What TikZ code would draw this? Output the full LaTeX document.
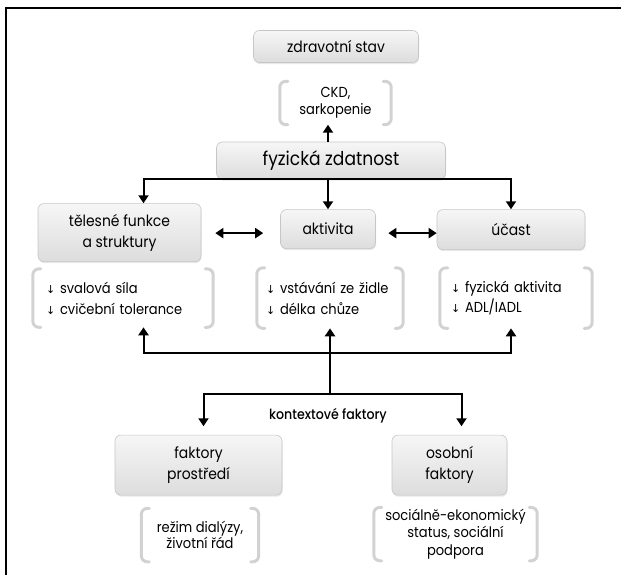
\documentclass[tikz,border=0pt]{standalone}
\usepackage{fontspec}
\setmainfont{Poppins}[FakeStretch=0.9]
\newfontfamily\medf{Poppins Medium}[FakeStretch=0.9]
\newfontfamily\symf{DejaVu Sans}
\usetikzlibrary{positioning,arrows.meta,shadows}

\newcommand\dn{{\symf\fontsize{11}{11}\selectfont ↓}\ }

\tikzset{
  box/.style={draw=gray!45, line width=0.6pt, rounded corners=6pt,
    top color=gray!7, bottom color=gray!27,
    drop shadow={opacity=0.18, shadow xshift=0.6pt, shadow yshift=-1.6pt},
    align=center, inner sep=0pt, font=\fontsize{15.5}{21}\selectfont},
  lst/.style={inner ysep=0pt, inner xsep=9pt, font=\fontsize{14.5}{20.7}\selectfont},
  brk/.style={draw=gray!35, line width=3pt, rounded corners=6pt, line cap=round},
  conn/.style={draw, line width=2pt, line cap=rect},
  arr/.style={draw, line width=2pt, -{Triangle[length=8pt,width=10pt]}},
  dbl/.style={draw, line width=2pt, {Triangle[length=8pt,width=10pt]}-{Triangle[length=8pt,width=10pt]}},
  frame/.style={draw, line width=2pt},
}

\begin{document}
\begin{tikzpicture}[x=1pt,y=-1pt]
    \useasboundingbox (0,0) rectangle (621,575);
    \draw[frame] (6,575) -- (6,8) -- (621,8);

    \node (fyz) [box, minimum width=229pt, minimum height=37pt, font=\fontsize{19}{21}\selectfont] at (331,160.5) {fyzická zdatnost};
    \node (ckd) [lst, above = 17pt, at=(fyz.north), xshift=4.5pt, minimum width=111pt, minimum height=43pt, align=center, font=\fontsize{14.5}{17}\selectfont] {CKD,\\sarkopenie};
    \node (zdr) [box, above = 18.5pt, at=(ckd.north), xshift=0.5pt, minimum width=165pt, minimum height=32pt] {zdravotní stav};

    \node (tel) [box, below = 24pt, at=(fyz.south), xshift=-211.5pt, minimum width=163pt, minimum height=58pt] {tělesné funkce\\a struktury};
    \node (akt) [box, below = 30pt, at=(fyz.south), xshift=-3pt, minimum width=95pt, minimum height=39pt] {aktivita};
    \node (uc) [box, below = 30pt, at=(fyz.south), xshift=180pt, minimum width=148pt, minimum height=40pt] {účast};

    \node (tfl) [lst, below = 7pt, at=(tel.south), xshift=3.5pt, inner xsep=13pt, align=left, text width=154pt, minimum height=58pt] {\dn svalová síla\\\dn cvičební tolerance};
    \node (akl) [lst, below = 19pt, at=(akt.south), xshift=2pt, align=left, text width=128pt, minimum height=60pt] {\dn vstávání ze židle\\\dn délka chůze};
    \node (ucl) [lst, below = 18pt, at=(uc.south), xshift=5pt, inner xsep=11pt, align=left, text width=130pt, minimum height=60pt] {\dn fyzická aktivita\\\dn ADL/IADL};

    \node (prost) [box, below = 106.5pt, at=(akl.south), xshift=-131.5pt, minimum width=167pt, minimum height=60pt] {faktory\\prostředí};
    \node (osob) [box, below = 106.5pt, at=(akl.south), xshift=119.5pt, minimum width=115pt, minimum height=60pt] {osobní\\faktory};

    \node (prl) [lst, below = 13pt, at=(prost.south), xshift=1.5pt, minimum width=117pt, minimum height=53pt, align=center, font=\fontsize{14.5}{16.5}\selectfont] {režim dialýzy,\\životní řád};
    \node (osl) [lst, below = 12pt, at=(osob.south), xshift=6pt, minimum width=163pt, minimum height=53pt, align=center, font=\fontsize{14.5}{17.5}\selectfont] {sociálně-ekonomický\\status, sociální\\podpora};

    % brackets round the lists
    \foreach \b in {ckd,tfl,akl,ucl,prl,osl}{
      \draw[brk] ([xshift=8pt]\b.north west) -- (\b.north west) -- (\b.south west) -- ([xshift=8pt]\b.south west);
      \draw[brk] ([xshift=-8pt]\b.north east) -- (\b.north east) -- (\b.south east) -- ([xshift=-8pt]\b.south east);
    }

    \coordinate (tl) at (143.5,179);
    \coordinate (tr) at (511,179);
    \coordinate (bl) at (143.5,353);
    \coordinate (bc) at (330,353);
    \coordinate (br) at (511,353);
    \coordinate (kc) at (330,394);
    \coordinate (kl) at (203.5,394);
    \coordinate (kr) at (461.5,394);
    \coordinate (ml) at ([yshift=-4pt]akt.west);
    \coordinate (mr) at ([yshift=-4pt]akt.east);

    \node (kf) [below = 11pt, at=(kc), xshift=-2pt, font=\medf\fontsize{14}{16}\selectfont] {kontextové faktory};

    \path[every edge/.style=conn]
    (tl) edge (tr)
    (bl) edge (br)
    (bc) edge (kc)
    (kl) edge (kr)
    ;

    \path[every edge/.style=arr]
    (akt.north |- fyz.north) edge (akt.north |- ckd.south)
    (tl) edge (tl |- tel.north)
    (akt.north |- fyz.south) edge (akt.north)
    (tr) edge (uc.north)
    (bl) edge (bl |- tfl.south)
    (bc) edge (bc |- akl.south)
    (br) edge (br |- ucl.south)
    (kl) edge[shorten >=8.5pt] (kl |- prost.north)
    (kr) edge[shorten >=8.5pt] (kr |- osob.north)
    ;

    \path[every edge/.style=dbl]
    (tel.east |- ml) edge[shorten <=14pt, shorten >=17pt] (ml)
    (mr) edge[shorten <=12.5pt] (uc.west |- mr)
    ;
\end{tikzpicture}
\end{document}
